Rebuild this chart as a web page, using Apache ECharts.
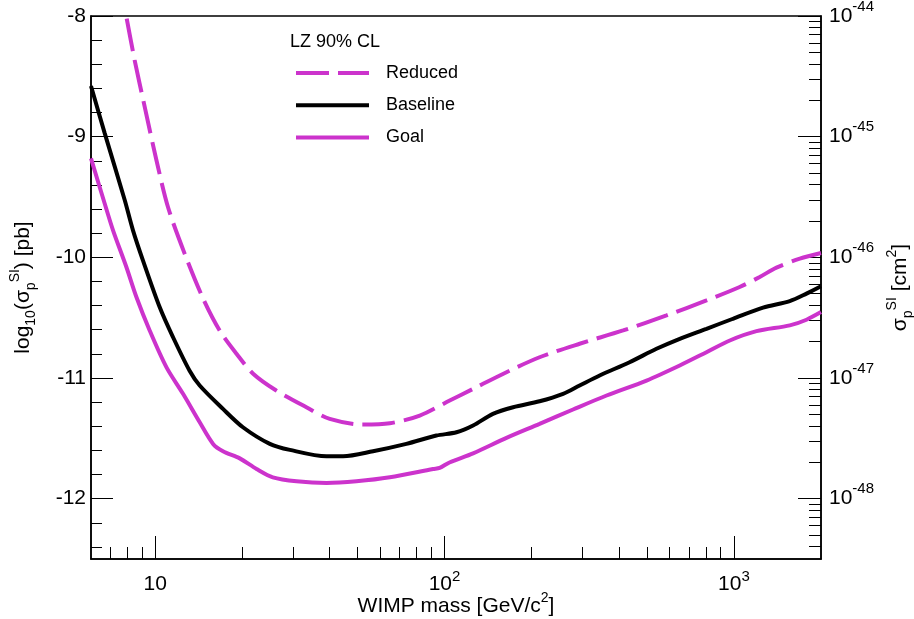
<!DOCTYPE html>
<html><head><meta charset="utf-8">
<script src="https://cdn.jsdelivr.net/npm/echarts@6/dist/echarts.min.js"></script>
<style>html,body{margin:0;padding:0;background:#fff}#c{width:914px;height:619px}</style>
</head><body><div id="c"></div>
<script>
// ---- data ----
const seriesNames = ['Reduced', 'Baseline', 'Goal'];
const legendTitle = 'LZ 90% CL';

const massReduced  = [7.5, 7.95, 8.49, 9.2, 10.1, 11.07, 12.64, 14.63, 16.7, 19.1, 21.8, 26.2, 33.3, 40.1, 52.3, 64.7, 82.1, 104.2, 125.5, 163.7, 213, 293, 414, 585, 804, 1047, 1228, 1403, 1690, 2000];
const sigmaReduced = [-7.68, -8.006, -8.365, -8.753, -9.195, -9.583, -9.969, -10.34, -10.606, -10.799, -10.965, -11.104, -11.242, -11.339, -11.386, -11.375, -11.311, -11.187, -11.09, -10.952, -10.828, -10.716, -10.606, -10.481, -10.357, -10.246, -10.163, -10.085, -10.011, -9.964];

const massBaseline  = [6, 6.69, 7.85, 8.38, 9.07, 10.36, 11.52, 13.15, 14.25, 17.15, 20.1, 24.9, 29.2, 39.1, 44.6, 56.6, 73.8, 93.7, 110, 125.5, 147, 172.6, 213, 256.8, 293, 343.6, 436, 540, 650, 804, 993, 1261, 1560, 1782, 2000];
const sigmaBaseline = [-8.58, -8.971, -9.527, -9.776, -10.025, -10.412, -10.661, -10.94, -11.062, -11.256, -11.408, -11.546, -11.596, -11.649, -11.649, -11.607, -11.546, -11.477, -11.45, -11.394, -11.297, -11.242, -11.193, -11.131, -11.062, -10.979, -10.869, -10.758, -10.675, -10.592, -10.509, -10.417, -10.363, -10.301, -10.24];

const massGoal  = [6, 6.69, 7.15, 7.95, 8.61, 9.57, 10.93, 12.48, 14.25, 15.85, 17.15, 19.6, 22.4, 25.5, 30.8, 39.1, 49.6, 64.7, 91.3, 96.2, 104, 125.5, 163.7, 213, 278, 363, 499, 650, 804, 968, 1197, 1560, 1782, 2000];
const sigmaGoal = [-9.18, -9.554, -9.776, -10.08, -10.329, -10.606, -10.91, -11.131, -11.367, -11.546, -11.607, -11.666, -11.754, -11.823, -11.856, -11.87, -11.856, -11.823, -11.754, -11.745, -11.70, -11.624, -11.496, -11.38, -11.261, -11.145, -11.021, -10.896, -10.786, -10.689, -10.612, -10.564, -10.517, -10.454];

// axes / ticks
const xMin = 6, xMax = 2000;
const yMin = -12.5, yMax = -8;          // log10(sigma / pb)
const pbToCm2Exp = -36;                  // 1 pb = 1e-36 cm^2
const xTickMajor = [10, 100, 1000];
const xTickMinor = [7, 8, 9, 20, 30, 40, 50, 60, 70, 80, 90, 200, 300, 400, 500, 600, 700, 800, 900];
const yTickMajor = [-12, -11, -10, -9, -8];
const yTickMinor = [-12.4, -12.2, -11.8, -11.6, -11.4, -11.2, -10.8, -10.6, -10.4, -10.2, -9.8, -9.6, -9.4, -9.2, -8.8, -8.6, -8.4, -8.2];
const rExpMajor = [-48, -47, -46, -45, -44];     // right axis: exponent of sigma in cm^2
const rDecadeMultipliers = [2, 3, 4, 5, 6, 7, 8, 9];

// ---- chart ----
const FONT = '"Liberation Sans", Arial, Helvetica, sans-serif';
const MAG = '#cc33cc';
const BLK = '#000000';
const chart = echarts.init(document.getElementById('c'), null, {renderer: 'canvas'});
function pairs(xs, ys) { return xs.map((x, i) => [x, ys[i]]); }
function expOf(v) { return Math.round(Math.log10(v)); }

const rMin = yMin + pbToCm2Exp, rMax = yMax + pbToCm2Exp;
const rExpMinor = [];
for (let n = Math.floor(rMin); n < rMax; n++) {
  rDecadeMultipliers.forEach(k => { const v = n + Math.log10(k); if (v >= rMin && v <= rMax) rExpMinor.push(v); });
}

const labRich = {
  b: {fontSize: 21, lineHeight: 30, fontFamily: FONT, color: BLK},
  s: {fontSize: 15, lineHeight: 15, verticalAlign: 'top', fontFamily: FONT, color: BLK}
};
const labRichR = {
  b: {fontSize: 21, lineHeight: 34, fontFamily: FONT, color: BLK},
  s: {fontSize: 15, lineHeight: 15, verticalAlign: 'top', fontFamily: FONT, color: BLK}
};
const nameRich = {
  n: {fontSize: 21, lineHeight: 30, fontFamily: FONT, color: BLK},
  sp: {fontSize: 14, lineHeight: 14, verticalAlign: 'top', fontFamily: FONT, color: BLK},
  sb: {fontSize: 14, lineHeight: 14, verticalAlign: 'bottom', fontFamily: FONT, color: BLK}
};

const axisLineStyle = {color: BLK, width: 1.5};
const tickStyle = {color: BLK, width: 1};
const hiddenSymbol = {color: 'rgba(0,0,0,0)', borderColor: 'rgba(0,0,0,0)', borderWidth: 0, opacity: 0};

const option = {
  animation: false,
  backgroundColor: '#ffffff',
  textStyle: {fontFamily: FONT},
  title: {
    text: legendTitle, left: 290, top: 33, padding: 0,
    textStyle: {fontSize: 18, fontWeight: 'normal', fontFamily: FONT, color: BLK}
  },
  legend: {
    data: [
      {name: seriesNames[0], lineStyle: {color: MAG, width: 4, type: [33, 9]}, itemStyle: hiddenSymbol},
      {name: seriesNames[1], lineStyle: {color: BLK, width: 4, type: 'solid'}, itemStyle: hiddenSymbol},
      {name: seriesNames[2], lineStyle: {color: MAG, width: 4, type: 'solid'}, itemStyle: hiddenSymbol}
    ],
    orient: 'vertical', left: 294, top: 64,
    itemWidth: 73, itemHeight: 18, itemGap: 14.2, padding: 0,
    itemStyle: hiddenSymbol,
    textStyle: {fontSize: 18, fontFamily: FONT, color: BLK, padding: [0, 0, 0, 12]}
  },
  grid: {
    left: 91, right: 93, top: 16, bottom: 60, outerBoundsMode: 'none', containLabel: false,
    show: true, borderColor: BLK, borderWidth: 1.5, backgroundColor: 'transparent'
  },
  xAxis: [
    {
      type: 'log', logBase: 10, min: xMin, max: xMax, position: 'bottom',
      axisLine: {show: true, onZero: false, lineStyle: axisLineStyle},
      axisTick: {show: true, inside: true, length: 23, customValues: xTickMajor, lineStyle: tickStyle},
      axisLabel: {
        show: true, customValues: xTickMajor, margin: 10, rich: labRich,
        formatter: v => { const e = expOf(v); return e === 1 ? '{b|10}' : '{b|10}{s|' + e + '}'; }
      },
      splitLine: {show: false}, minorTick: {show: false},
      name: '{n|WIMP mass [GeV/c}{sp|2}{n|]}', nameLocation: 'middle', nameGap: 32, nameMoveOverlap: false,
      nameTextStyle: {rich: nameRich}
    },
    {
      type: 'log', logBase: 10, min: xMin, max: xMax, position: 'bottom',
      axisLine: {show: false, onZero: false},
      axisTick: {show: true, inside: true, length: 12, customValues: xTickMinor, lineStyle: tickStyle},
      axisLabel: {show: false}, splitLine: {show: false}
    }
  ],
  yAxis: [
    {
      type: 'value', min: yMin, max: yMax, position: 'left',
      axisLine: {show: true, onZero: false, lineStyle: axisLineStyle},
      axisTick: {show: true, inside: true, length: 22, customValues: yTickMajor, lineStyle: tickStyle},
      axisLabel: {show: true, customValues: yTickMajor, margin: 5, fontSize: 21, fontFamily: FONT, color: BLK},
      splitLine: {show: false},
      name: '{n|log}{sb|10}{n|(σ}{sb|p}{sp|SI}{n|) [pb]}', nameLocation: 'middle', nameGap: 53, nameRotate: 90,
      nameTextStyle: {rich: nameRich}
    },
    {
      type: 'value', min: yMin, max: yMax, position: 'left',
      axisLine: {show: false, onZero: false},
      axisTick: {show: true, inside: true, length: 11, customValues: yTickMinor, lineStyle: tickStyle},
      axisLabel: {show: false}, splitLine: {show: false}
    },
    {
      type: 'value', min: rMin, max: rMax, position: 'right',
      axisLine: {show: true, onZero: false, lineStyle: axisLineStyle},
      axisTick: {show: true, inside: true, length: 23, customValues: rExpMajor, lineStyle: tickStyle},
      axisLabel: {
        show: true, customValues: rExpMajor, margin: 8, rich: labRichR,
        formatter: v => '{b|10}{s|' + Math.round(v) + '}'
      },
      splitLine: {show: false},
      name: '{n|σ}{sb|p}{sp|SI}{n| [cm}{sp|2}{n|]}', nameLocation: 'middle', nameGap: 62, nameRotate: 90,
      nameTextStyle: {rich: nameRich}
    },
    {
      type: 'value', min: rMin, max: rMax, position: 'right',
      axisLine: {show: false, onZero: false},
      axisTick: {show: true, inside: true, length: 12, customValues: rExpMinor, lineStyle: tickStyle},
      axisLabel: {show: false}, splitLine: {show: false}
    }
  ],
  series: [
    {
      name: seriesNames[0], type: 'line', xAxisIndex: 0, yAxisIndex: 0,
      data: pairs(massReduced, sigmaReduced), symbol: 'none', smooth: 0.3, clip: true,
      lineStyle: {color: MAG, width: 4, type: [33, 9]}, itemStyle: {color: MAG}
    },
    {
      name: seriesNames[1], type: 'line', xAxisIndex: 0, yAxisIndex: 0,
      data: pairs(massBaseline, sigmaBaseline), symbol: 'none', smooth: 0.3, clip: true,
      lineStyle: {color: BLK, width: 4}, itemStyle: {color: BLK}
    },
    {
      name: seriesNames[2], type: 'line', xAxisIndex: 0, yAxisIndex: 0,
      data: pairs(massGoal, sigmaGoal), symbol: 'none', smooth: 0.3, clip: true,
      lineStyle: {color: MAG, width: 4}, itemStyle: {color: MAG}
    }
  ]
};
chart.setOption(option);
</script>
</body></html>
